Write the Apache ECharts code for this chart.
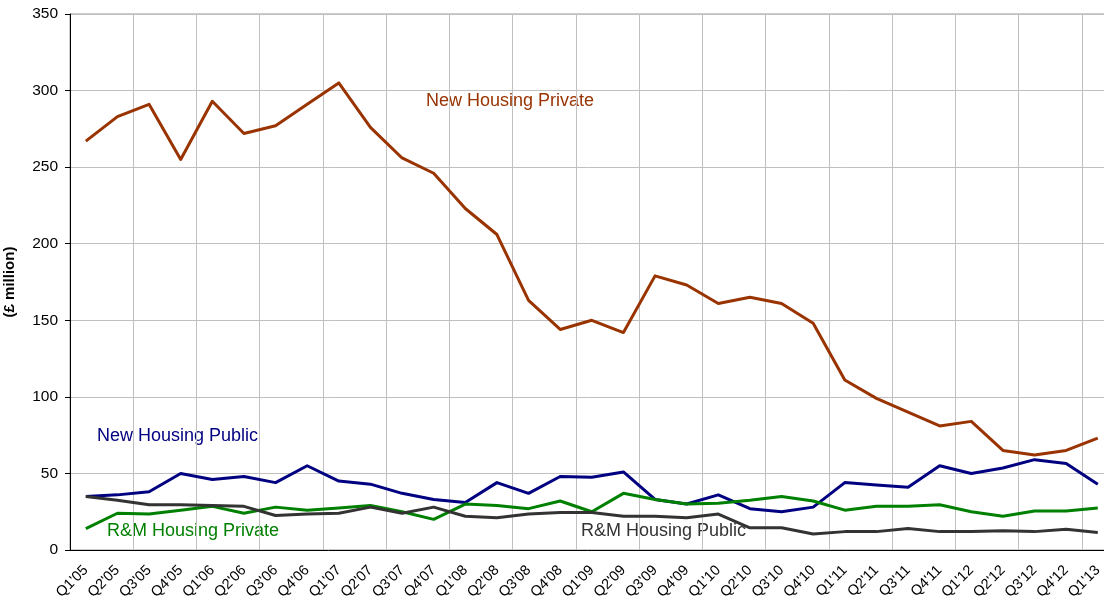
<!DOCTYPE html>
<html>
<head>
<meta charset="utf-8">
<script src="https://cdn.jsdelivr.net/npm/echarts@6/dist/echarts.min.js"></script>
<style>
  html, body { margin: 0; padding: 0; background: #fff; }
  #chart { width: 1104px; height: 605px; }
</style>
</head>
<body>
<div id="chart"></div>
<script>
const quarters = ["Q1'05", "Q2'05", "Q3'05", "Q4'05", "Q1'06", "Q2'06", "Q3'06", "Q4'06",
  "Q1'07", "Q2'07", "Q3'07", "Q4'07", "Q1'08", "Q2'08", "Q3'08", "Q4'08",
  "Q1'09", "Q2'09", "Q3'09", "Q4'09", "Q1'10", "Q2'10", "Q3'10", "Q4'10",
  "Q1'11", "Q2'11", "Q3'11", "Q4'11", "Q1'12", "Q2'12", "Q3'12", "Q4'12", "Q1'13"];

const newHousingPrivate = [267, 283, 291, 255, 293, 272, 277, 291, 305, 276, 256, 246,
  223, 206, 163, 144, 150, 142, 179, 173, 161, 165, 161, 148,
  111, 99, 90, 81, 84, 65, 62, 65, 73];

const newHousingPublic = [35, 36, 38, 50, 46, 48, 44, 55, 45, 43, 37, 33,
  31, 44, 37, 48, 47.5, 51, 33, 30, 36, 27, 25, 28,
  44, 42.5, 41, 55, 50, 53.5, 59, 56.5, 43];

const rmHousingPrivate = [14, 24, 23.5, 26, 28.5, 24, 28, 26, 27.5, 29, 25, 20,
  30, 29, 27, 32, 25, 37, 33, 30, 30.5, 32.5, 35, 32,
  26, 28.5, 28.5, 29.5, 25, 22, 25.5, 25.5, 27.5];

const rmHousingPublic = [35, 32.5, 29.5, 29.5, 29, 28.5, 22.5, 23.5, 24, 28, 24, 28,
  22, 21, 23.5, 24.5, 24.5, 22, 22, 21, 23.5, 14.5, 14.5, 10.5,
  12, 12, 14, 12, 12, 12.5, 12, 13.5, 11.5];

const yTicks = [0, 50, 100, 150, 200, 250, 300, 350];

const font = '"Liberation Sans", Arial, sans-serif';
const chart = echarts.init(document.getElementById('chart'));

function lineSeries(name, data, color) {
  return {
    name: name,
    type: 'line',
    data: data,
    symbol: 'none',
    animation: false,
    lineStyle: { color: color, width: 3, join: 'round' },
    itemStyle: { color: color }
  };
}

// in-plot series names, placed like the original annotations
function seriesLabel(text, x, y, color) {
  return {
    type: 'text',
    x: x,
    y: y,
    style: { text: text, fill: color, font: '18px ' + font, verticalAlign: 'middle' }
  };
}

chart.setOption({
  backgroundColor: '#ffffff',
  animation: false,
  grid: {
    left: 70,
    top: 14,
    bottom: 55,
    width: 1043.6,
    containLabel: false,
    outerBoundsMode: 'none',
    show: true,
    borderColor: '#999999',
    borderWidth: 1
  },
  xAxis: {
    type: 'category',
    data: quarters,
    boundaryGap: true,
    axisLine: { lineStyle: { color: '#000', width: 1 } },
    axisTick: { interval: 1, length: 5, lineStyle: { color: '#000' } },
    splitLine: { show: true, interval: 1, lineStyle: { color: '#c0c0c0', width: 1 } },
    axisLabel: {
      interval: 0,
      rotate: 45,
      margin: 18,
      color: '#000',
      fontSize: 14.5,
      fontFamily: font
    }
  },
  yAxis: {
    type: 'value',
    min: yTicks[0],
    max: yTicks[yTicks.length - 1],
    interval: 50,
    name: '(£ million)',
    nameLocation: 'middle',
    nameGap: 53,
    nameTextStyle: { color: '#000', fontSize: 15, fontWeight: 'bold', fontFamily: font },
    axisLine: { show: true, lineStyle: { color: '#000', width: 1 } },
    axisTick: { show: true, length: 5, lineStyle: { color: '#000' } },
    splitLine: { lineStyle: { color: '#c0c0c0', width: 1 } },
    axisLabel: { color: '#000', fontSize: 15.5, fontFamily: font, margin: 12 }
  },
  series: [
    lineSeries('New Housing Private', newHousingPrivate, '#993300'),
    lineSeries('New Housing Public', newHousingPublic, '#000080'),
    lineSeries('R&M Housing Private', rmHousingPrivate, '#008000'),
    lineSeries('R&M Housing Public', rmHousingPublic, '#333333')
  ],
  graphic: [
    seriesLabel('New Housing Private', 426, 101, '#993300'),
    seriesLabel('New Housing Public', 97, 436, '#000080'),
    seriesLabel('R&M Housing Private', 107, 531, '#008000'),
    seriesLabel('R&M Housing Public', 581, 531, '#333333')
  ]
});
</script>
</body>
</html>
